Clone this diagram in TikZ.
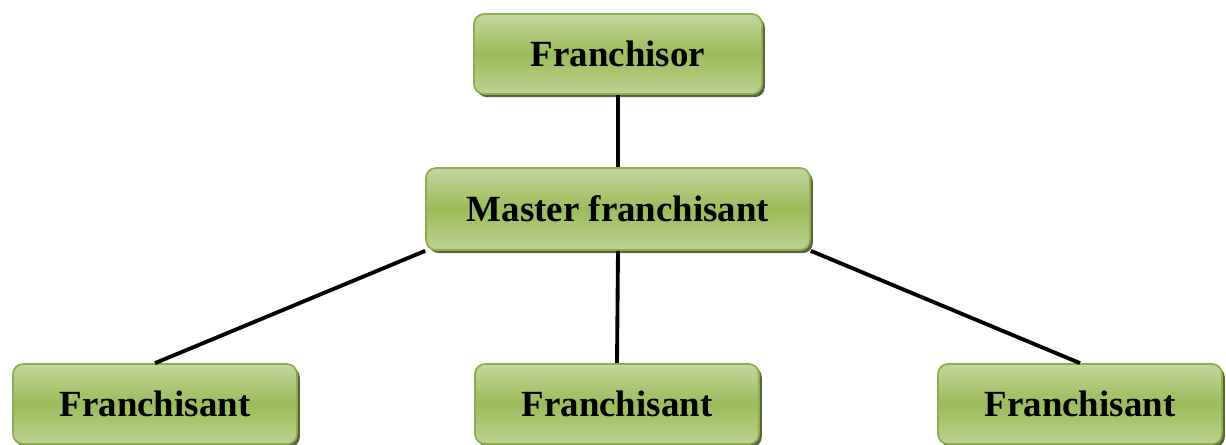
\documentclass[tikz,border=0pt]{standalone}
\usepackage{fontspec}
\setmainfont{Liberation Serif}
\usetikzlibrary{shadows}

\definecolor{boxlight}{HTML}{C4D79E}
\definecolor{boxmid}{HTML}{9BBB59}
\definecolor{boxedge}{HTML}{8EAE4E}

\begin{document}
\begin{tikzpicture}[x=0.02cm, y=-0.02cm,
        orgbox/.style={draw=boxedge, line width=1pt, rounded corners=0.2cm,
            top color=boxlight, bottom color=boxlight!85!boxmid, middle color=boxmid,
            drop shadow={shadow xshift=1.6pt, shadow yshift=-1.8pt, fill=black!55!boxmid, opacity=0.9},
            minimum height=1.6cm, font=\fontsize{21}{25}\selectfont\bfseries, inner sep=0pt},
        link/.style={line width=2.2pt}]
        \useasboundingbox (0,0) rectangle (1226,444);

        \node[orgbox, minimum width=5.76cm] (franchisor) at (618,54) {Franchisor};
        \node[orgbox, minimum width=7.68cm, minimum height=1.64cm] (master) at (618,209) {Master franchisant};

        \node[orgbox, minimum width=5.68cm] (left) at (155,404) {Franchisant};
        \node[orgbox, minimum width=5.68cm] (mid) at (617,404) {Franchisant};
        \node[orgbox, minimum width=5.68cm] (right) at (1080,404) {Franchisant};

        \draw[link] (franchisor.south) -- (master.north);
        \draw[link] (master.south west) -- (left.north);
        \draw[link] (master.south) -- (mid.north);
        \draw[link] (master.south east) -- (right.north);
    \end{tikzpicture}
\end{document}
